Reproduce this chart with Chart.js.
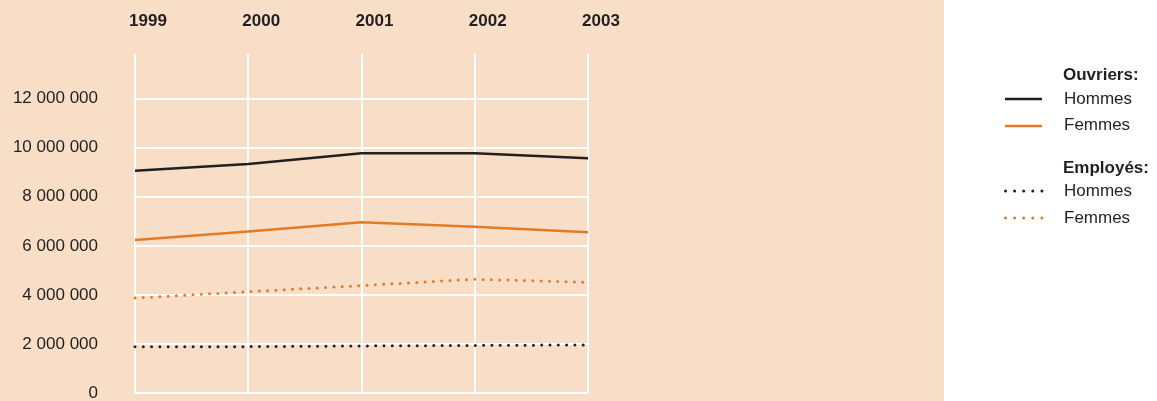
<!DOCTYPE html>
<html>
<head>
<meta charset="utf-8">
<script src="https://cdn.jsdelivr.net/npm/chart.js@4.4.1/dist/chart.umd.min.js"></script>
<style>
  html, body { margin: 0; padding: 0; background: #fff; }
  #wrap { position: relative; width: 1157px; height: 401px; }
  #chart { position: absolute; left: 0; top: 0; }
  .lg { position: absolute; font-family: "Liberation Sans", Arial, sans-serif; font-size: 17px; line-height: 20px; color: #231f20; white-space: nowrap; }
  .lg b { font-weight: bold; }
  .sw { position: absolute; }
</style>
</head>
<body>
<div id="wrap">
  <canvas id="chart" width="1157" height="401"></canvas>
  <div class="lg" style="left:1063px; top:65px;"><b>Ouvriers:</b></div>
  <svg class="sw" style="left:1004px; top:94px;" width="40" height="40">
    <line x1="1" y1="5" x2="38" y2="5" stroke="#231f20" stroke-width="2.5"/>
    <line x1="1" y1="32" x2="38" y2="32" stroke="#e37b26" stroke-width="2.5"/>
  </svg>
  <div class="lg" style="left:1064px; top:89px;">Hommes</div>
  <div class="lg" style="left:1064px; top:115px;">Femmes</div>
  <div class="lg" style="left:1063px; top:158px;"><b>Employés:</b></div>
  <svg class="sw" style="left:1004px; top:186px;" width="40" height="40">
    <line x1="1.5" y1="5" x2="38" y2="5" stroke="#231f20" stroke-width="3" stroke-linecap="round" stroke-dasharray="0 9.1"/>
    <line x1="1.5" y1="32" x2="38" y2="32" stroke="#e37b26" stroke-width="3" stroke-linecap="round" stroke-dasharray="0 9.1"/>
  </svg>
  <div class="lg" style="left:1064px; top:181px;">Hommes</div>
  <div class="lg" style="left:1064px; top:208px;">Femmes</div>
</div>
<script>
const years = ['1999', '2000', '2001', '2002', '2003'];
const ouvriersHommes = [9060000, 9340000, 9770000, 9770000, 9570000];
const ouvriersFemmes = [6240000, 6580000, 6960000, 6780000, 6550000];
const employesHommes = [1890000, 1890000, 1920000, 1940000, 1960000];
const employesFemmes = [3870000, 4130000, 4380000, 4640000, 4510000];
const yTicks = [0, 2000000, 4000000, 6000000, 8000000, 10000000, 12000000];

const black = '#231f20';
const orange = '#e37b26';
const font = { family: '"Liberation Sans", Arial, sans-serif', size: 17 };

// peach panel behind the plot, stops before the legend
const bgPlugin = {
    id: 'peach',
    beforeDraw(chart) {
        const c = chart.ctx;
        c.save();
        c.fillStyle = '#f8dec7';
        c.fillRect(0, 0, 944, chart.height);
        c.restore();
    }
};

function fmt(v) {
    return String(v).replace(/\B(?=(\d{3})+(?!\d))/g, ' ');
}

const ctx = document.getElementById('chart').getContext('2d');
new Chart(ctx, {
    type: 'line',
    data: {
        labels: years,
        datasets: [
            { label: 'Ouvriers: Hommes', data: ouvriersHommes, borderColor: black, borderWidth: 2.5 },
            { label: 'Ouvriers: Femmes', data: ouvriersFemmes, borderColor: orange, borderWidth: 2.5 },
            { label: 'Employés: Hommes', data: employesHommes, borderColor: black, borderWidth: 3, borderDash: [0, 8.3], borderCapStyle: 'round' },
            { label: 'Employés: Femmes', data: employesFemmes, borderColor: orange, borderWidth: 3, borderDash: [0, 8.3], borderCapStyle: 'round' }
        ]
    },
    options: {
        responsive: false,
        animation: false,
        devicePixelRatio: 1,
        layout: { padding: { left: 0, top: 0, right: 569, bottom: 8 } },
        elements: { point: { radius: 0 }, line: { tension: 0 } },
        datasets: { line: { clip: false } },
        plugins: { legend: { display: false }, tooltip: { enabled: false } },
        scales: {
            x: {
                position: 'top',
                offset: false,
                border: { display: false },
                grid: { color: '#ffffff', lineWidth: 2, drawTicks: false },
                ticks: { color: black, font: { ...font, weight: 'bold' }, padding: 22, labelOffset: 13 },
                afterFit: (s) => { s.height = 54; s.paddingLeft = 0; s.paddingRight = 0; }
            },
            y: {
                min: 0,
                max: 13820000,
                border: { display: false },
                grid: { color: '#ffffff', lineWidth: 2, drawTicks: false },
                afterBuildTicks: (s) => { s.ticks = yTicks.map(v => ({ value: v })); },
                ticks: { color: black, font: font, padding: 37, callback: (v) => fmt(v) },
                afterFit: (s) => { s.width = 135; s.paddingTop = 0; s.paddingBottom = 0; }
            }
        }
    },
    plugins: [bgPlugin]
});
</script>
</body>
</html>
